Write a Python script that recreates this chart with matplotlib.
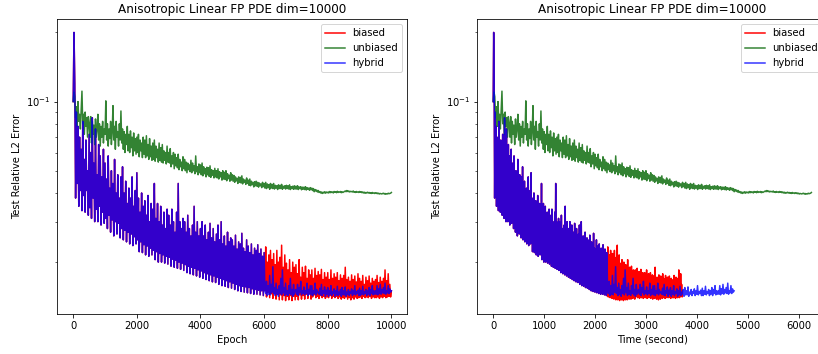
import numpy as np
import matplotlib
matplotlib.use("Agg")
import matplotlib.pyplot as plt

# ---- data (test relative L2 error, in units of 1e-4), evaluated every 25 epochs ----
eval_every = 25
scale = 1e-4

biased = [
    1000, 2000, 1200, 380, 900, 440, 780, 350, 700, 410,
    620, 335, 820, 390, 560, 330, 680, 410, 500, 320,
    720, 345, 600, 310, 850, 380, 540, 300, 760, 340,
    480, 300, 650, 350, 580, 290, 470, 330, 620, 295,
    540, 310, 460, 280, 580, 320, 420, 270, 500, 305,
    440, 260, 560, 300, 400, 265, 480, 295, 380, 255,
    470, 280, 520, 250, 400, 275, 450, 245, 360, 270,
    420, 240, 380, 265, 470, 236, 350, 258, 410, 240,
    490, 250, 380, 222, 330, 245, 400, 220, 350, 238,
    370, 215, 320, 235, 390, 212, 300, 230, 360, 215,
    340, 225, 440, 205, 310, 222, 360, 200, 300, 218,
    350, 200, 290, 215, 330, 198, 280, 212, 340, 196,
    320, 210, 290, 192, 340, 206, 300, 190, 270, 204,
    330, 188, 440, 200, 300, 186, 280, 198, 310, 184,
    300, 195, 270, 180, 320, 192, 280, 178, 260, 190,
    290, 176, 350, 188, 270, 174, 300, 185, 260, 172,
    280, 183, 300, 170, 260, 180, 290, 168, 250, 178,
    270, 166, 295, 176, 255, 164, 280, 174, 245, 163,
    265, 172, 290, 160, 250, 170, 300, 158, 240, 168,
    260, 157, 235, 166, 270, 155, 245, 164, 255, 154,
    250, 162, 235, 152, 262, 160, 228, 150, 245, 158,
    240, 149, 267, 157, 230, 148, 222, 156, 250, 147,
    235, 155, 220, 146, 240, 153, 215, 145, 230, 152,
    225, 145, 238, 151, 218, 144, 228, 150, 212, 143,
    220, 150, 233, 141, 200, 148, 215, 140, 225, 146,
    205, 139, 218, 146, 195, 138, 225, 145, 200, 137,
    210, 144, 237, 137, 190, 143, 215, 136, 198, 142,
    185, 137, 205, 143, 180, 136, 200, 142, 190, 137,
    195, 142, 178, 137, 205, 144, 172, 138, 190, 143,
    180, 138, 192, 145, 170, 139, 185, 146, 176, 138,
    185, 141, 170, 144, 188, 140, 175, 142, 182, 139,
    176, 143, 186, 140, 168, 142, 180, 139, 172, 141,
    180, 140, 168, 143, 185, 139, 170, 142, 178, 140,
    172, 142, 180, 139, 166, 141, 176, 138, 170, 140,
    175, 139, 190, 141, 168, 138, 172, 140, 165, 137,
    176, 140, 168, 138, 174, 141, 164, 139, 178, 140,
    170, 141, 165, 139, 175, 142, 160, 140, 172, 141,
    166, 140, 174, 142, 162, 139, 170, 141, 165, 140,
    168, 140, 175, 141, 163, 139, 172, 141, 165, 140,
    170, 142, 185, 140, 166, 141, 178, 142, 160, 141,
    150,
]

unbiased = [
    1000, 1100, 1050, 850, 950, 780, 1000, 820, 880, 760,
    920, 1110, 800, 880, 720, 900, 780, 850, 700, 860,
    800, 700, 860, 660, 820, 720, 790, 650, 840, 700,
    760, 880, 680, 800, 640, 780, 700, 820, 660, 760,
    720, 1007, 680, 800, 640, 760, 690, 820, 650, 740,
    960, 680, 780, 620, 820, 700, 740, 640, 800, 680,
    910, 660, 760, 620, 740, 600, 720, 650, 780, 610,
    720, 600, 745, 630, 700, 580, 730, 610, 690, 590,
    700, 600, 720, 575, 680, 610, 660, 570, 700, 590,
    680, 570, 710, 580, 650, 560, 690, 575, 640, 555,
    660, 560, 680, 550, 640, 570, 620, 545, 660, 555,
    630, 545, 650, 540, 610, 555, 600, 535, 640, 545,
    600, 540, 624, 520, 580, 535, 600, 510, 590, 525,
    570, 515, 590, 505, 560, 520, 545, 500, 575, 510,
    560, 500, 545, 490, 540, 505, 530, 495, 555, 490,
    540, 500, 525, 485, 580, 495, 520, 480, 535, 490,
    530, 480, 540, 475, 520, 485, 510, 470, 518, 480,
    515, 472, 525, 468, 505, 478, 500, 465, 512, 470,
    500, 465, 510, 460, 495, 470, 490, 455, 500, 460,
    492, 458, 500, 452, 485, 462, 478, 450, 490, 455,
    480, 450, 477, 445, 470, 452, 463, 440, 470, 445,
    468, 442, 475, 438, 460, 446, 455, 436, 465, 440,
    455, 432, 460, 430, 450, 435, 445, 425, 448, 430,
    450, 428, 445, 424, 442, 430, 438, 422, 445, 426,
    440, 420, 445, 418, 438, 422, 435, 415, 440, 420,
    436, 418, 440, 416, 432, 420, 430, 414, 434, 418,
    432, 418, 436, 415, 428, 420, 430, 416, 432, 418,
    430, 416, 434, 414, 426, 418, 428, 415, 430, 416,
    428, 416, 430, 414, 425, 418, 426, 413, 424, 415,
    424, 414, 426, 412, 422, 415, 420, 411, 422, 413,
    420, 410, 418, 405, 414, 408, 412, 404, 410, 402,
    406, 400, 404, 398, 403, 400, 405, 399, 404, 401,
    403, 400, 406, 401, 405, 402, 404, 400, 406, 403,
    405, 401, 407, 402, 404, 403, 406, 401, 405, 402,
    404, 406, 408, 405, 410, 406, 408, 404, 407, 405,
    406, 404, 408, 403, 405, 402, 406, 403, 404, 402,
    406, 403, 405, 401, 404, 400, 403, 399, 402, 400,
    403, 400, 402, 399, 401, 398, 402, 399, 400, 398,
    401, 398, 400, 397, 399, 396, 398, 397, 396, 398,
    399, 396, 398, 395, 397, 396, 399, 397, 398, 399,
    402,
]

# hybrid = biased up to the switch epoch, then its own values
switch_epoch = 6000
hybrid_tail = [
    150, 146, 165, 143, 158, 145, 175, 144, 160,
    148, 191, 146, 155, 143, 162, 145, 152, 142, 158,
    146, 170, 144, 185, 147, 155, 143, 162, 145, 150,
    143, 158, 146, 170, 144, 152, 142, 160, 145, 150,
    152, 145, 160, 143, 155, 147, 165, 144, 150, 146,
    156, 144, 150, 146, 162, 143, 152, 145, 158, 144,
    158, 143, 150, 146, 162, 144, 152, 147, 148, 145,
    154, 144, 160, 143, 150, 146, 156, 142, 151, 145,
    155, 142, 150, 145, 158, 143, 149, 146, 153, 142,
    150, 144, 157, 143, 148, 145, 152, 142, 155, 144,
    150, 144, 156, 142, 148, 145, 152, 143, 149, 146,
    153, 143, 150, 145, 158, 144, 149, 146, 151, 143,
    154, 143, 150, 145, 157, 144, 149, 146, 152, 143,
    150, 145, 155, 143, 152, 146, 158, 144, 150, 145,
    150, 145, 158, 144, 153, 146, 160, 145, 152, 147,
    155, 146, 162, 145, 150, 147, 158, 146, 153, 148,
    150,
]

# wall-clock seconds per epoch
sec_per_epoch_biased = 0.372
sec_per_epoch_unbiased = 0.625

# ---- derived series ----
n_switch = switch_epoch // eval_every
b = np.array(biased) * scale
u = np.array(unbiased) * scale
h = np.concatenate([np.array(biased[:n_switch + 1]), np.array(hybrid_tail)]) * scale
ep = np.arange(len(b)) * eval_every

t_b = ep * sec_per_epoch_biased
t_u = ep * sec_per_epoch_unbiased
t_h = np.where(ep <= switch_epoch, ep * sec_per_epoch_biased,
               switch_epoch * sec_per_epoch_biased + (ep - switch_epoch) * sec_per_epoch_unbiased)

W, H, DPI = 818, 354, 72
fig = plt.figure(figsize=(W / DPI, H / DPI), dpi=DPI)
ax1 = fig.add_axes([57.3 / W, 40 / H, 350 / W, 295 / H])
ax2 = fig.add_axes([477.3 / W, 40 / H, 350 / W, 295 / H])

title = "Anisotropic Linear FP PDE dim=10000"
for ax, (xb, xu, xh), xlabel in [
    (ax1, (ep, ep, ep), "Epoch"),
    (ax2, (t_b, t_u, t_h), "Time (second)"),
]:
    ax.plot(xb, b, color="red", label="biased")
    ax.plot(xu, u, color="#006400", alpha=0.8, label="unbiased")
    ax.plot(xh, h, color="blue", alpha=0.8, label="hybrid")
    ax.set_yscale("log")
    ax.set_title(title)
    ax.set_xlabel(xlabel)
    ax.set_ylabel("Test Relative L2 Error")
    ax.legend(loc="upper right")

fig.savefig("out.png", dpi=DPI)
